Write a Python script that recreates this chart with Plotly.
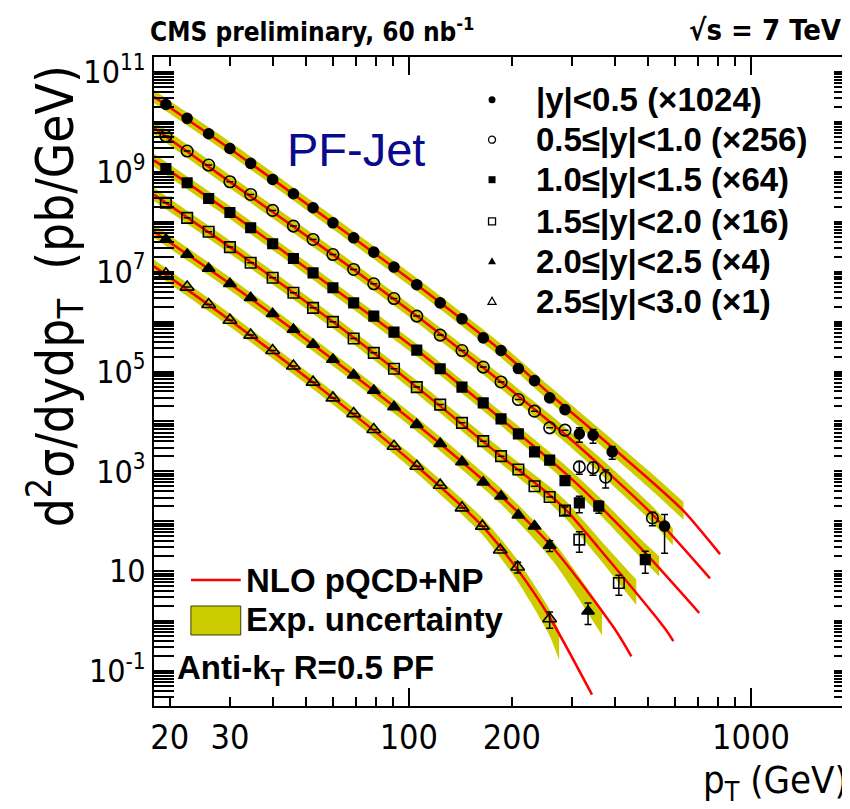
import math
import plotly.graph_objects as go

# ---------------- data ----------------
labels = ["|y|<0.5 (×1024)", "0.5≤|y|<1.0 (×256)", "1.0≤|y|<1.5 (×64)",
          "1.5≤|y|<2.0 (×16)", "2.0≤|y|<2.5 (×4)", "2.5≤|y|<3.0 (×1)"]

pt_0 = [19.5, 22.5, 26, 30, 34.5, 40, 46, 52.5, 60, 69, 79, 90.5, 105.5, 123.5, 143, 165, 186, 209, 233, 258, 286, 315, 345.5, 393, 559]
xs_0 = [2.24e10, 1.18e10, 5.8e9, 2.94e9, 1.48e9, 7.05e8, 3.65e8, 1.91e8, 9.55e7, 4.78e7, 2.47e7, 1.24e7, 5.5e6, 2.38e6, 1.14e6, 4.74e5, 2.64e5, 1.15e5, 6.6e4, 2.97e4, 1.73e4, 5.65e3, 5.3e3, 2.46e3, 80]
err_0 = [0] * 21 + [1.8e3, 1.65e3, 7e2, 57]

pt_1 = [19.5, 22.5, 26, 30, 34.5, 40, 46, 52.5, 60, 69, 79, 90.5, 105.5, 123.5, 143, 165, 186, 209, 233, 258, 286, 315, 345.5, 376, 515]
xs_1 = [5.22e9, 2.61e9, 1.37e9, 6.34e8, 3.53e8, 1.69e8, 8.2e7, 4.43e7, 2.21e7, 1.11e7, 5.73e6, 2.9e6, 1.29e6, 5.37e5, 2.64e5, 1.23e5, 6.2e4, 2.75e4, 1.61e4, 7.45e3, 6.7e3, 1.23e3, 1.18e3, 766, 117]
err_1 = [0] * 21 + [350, 340, 300, 35]

pt_2 = [19.5, 22.5, 26, 30, 34.5, 40, 46, 52.5, 60, 69, 79, 90.5, 105.5, 123.5, 143, 165, 186, 209, 233, 258, 286, 315, 359, 491]
xs_2 = [1.17e9, 6.05e8, 2.93e8, 1.54e8, 7.59e7, 3.63e7, 1.84e7, 9.5e6, 4.76e6, 2.38e6, 1.29e6, 6.17e5, 2.69e5, 1.14e5, 4.88e4, 2.36e4, 1.13e4, 5.65e3, 2.46e3, 1.68e3, 655, 234, 201, 17.1]
err_2 = [0] * 20 + [90, 85, 55, 8]

pt_3 = [19.5, 22.5, 26, 30, 34.5, 40, 46, 52.5, 60, 69, 79, 90.5, 105.5, 123.5, 143, 165, 186, 209, 233, 258, 286, 315, 411]
xs_3 = [2.4e8, 1.2e8, 6.3e7, 3.11e7, 1.51e7, 7.55e6, 3.78e6, 1.89e6, 9.9e5, 4.59e5, 2.37e5, 1.14e5, 4.88e4, 2.18e4, 9.4e3, 4.04e3, 2.02e3, 1.09e3, 506, 308, 164, 43, 5.8]
err_3 = [0] * 20 + [30, 19, 2.5]

pt_4 = [19.5, 22.5, 26, 30, 34.5, 40, 46, 52.5, 60, 69, 79, 90.5, 105.5, 123.5, 143, 165, 186, 209, 233, 258, 334]
xs_4 = [4.43e7, 2.21e7, 1.16e7, 5.73e6, 3.0e6, 1.44e6, 6.95e5, 3.48e5, 1.74e5, 8.47e4, 4.17e4, 1.96e4, 8.67e3, 3.6e3, 1.55e3, 608, 318, 133, 80, 33, 1.58]
err_4 = [0] * 19 + [8, 0.72]

pt_5 = [19.5, 22.5, 26, 30, 34.5, 40, 46, 52.5, 60, 69, 79, 90.5, 105.5, 123.5, 143, 164, 185, 208, 258]
xs_5 = [9.08e6, 4.92e6, 2.2e6, 1.07e6, 5.37e5, 2.64e5, 1.29e5, 6.14e4, 2.97e4, 1.44e4, 6.89e3, 3.2e3, 1.27e3, 530, 186, 80, 26.7, 12.2, 1.12]
err_5 = [0] * 17 + [3, 0.4]

# NLO pQCD+NP theory curves
nlo_pt_0 = [18, 30, 60, 105.5, 186, 258, 359, 525, 635, 812]
nlo_0 = [3.2e10, 2.9e9, 9.5e7, 5.5e6, 2.64e5, 3.6e4, 5.2e3, 540, 162, 22]
nlo_pt_1 = [18, 30, 60, 105.5, 186, 258, 288, 376, 515, 759]
nlo_1 = [7.6e9, 6.3e8, 2.2e7, 1.29e6, 6.2e4, 9.9e3, 5.3e3, 1.04e3, 138, 7.2]
nlo_pt_2 = [18, 30, 60, 105.5, 186, 288, 359, 491, 706]
nlo_2 = [1.7e9, 1.54e8, 4.76e6, 2.69e5, 1.13e4, 890, 213, 23.3, 1.46]
nlo_pt_3 = [18, 30, 60, 105.5, 186, 258, 288, 359, 559, 593]
nlo_3 = [3.5e8, 3.11e7, 9.9e5, 4.88e4, 2.02e3, 338, 169, 29.3, 0.73, 0.40]
nlo_pt_4 = [18, 30, 60, 105.5, 186, 264, 398, 447]
nlo_4 = [6.3e7, 5.73e6, 1.74e5, 8.67e3, 318, 29.3, 0.73, 0.198]
nlo_pt_5 = [18, 30, 60, 105.5, 164, 206, 256.6, 343]
nlo_5 = [1.28e7, 1.07e6, 2.97e4, 1.27e3, 80, 11.7, 1.27, 0.0337]

# experimental uncertainty bands (upper / lower edges)
band_pt_0 = [18, 30, 60, 105.5, 186, 258, 359, 525, 635]
band_hi_0 = [4.3e10, 4.0e9, 1.29e8, 7.5e6, 3.6e5, 5.1e4, 7.4e3, 794, 245]
band_lo_0 = [2.4e10, 2.2e9, 7.1e7, 4.1e6, 1.9e5, 2.5e4, 3.6e3, 363, 107]
band_pt_1 = [18, 30, 60, 105.5, 186, 258, 288, 376, 515, 591]
band_hi_1 = [1.04e10, 8.6e8, 3.0e7, 1.74e6, 8.6e4, 1.41e4, 7.4e3, 1.5e3, 200, 72]
band_lo_1 = [5.7e9, 4.7e8, 1.64e7, 9.6e5, 4.5e4, 7.0e3, 3.7e3, 716, 95, 33]
band_pt_2 = [18, 30, 60, 105.5, 186, 288, 359, 491, 539]
band_hi_2 = [2.3e9, 2.07e8, 6.4e6, 3.6e5, 1.56e4, 1.29e3, 316, 36, 20]
band_lo_2 = [1.26e9, 1.14e8, 3.5e6, 2.0e5, 8.2e3, 617, 144, 15, 7.9]
band_pt_3 = [18, 30, 60, 105.5, 186, 258, 288, 359, 462]
band_hi_3 = [4.8e8, 4.2e7, 1.34e6, 6.6e4, 2.85e3, 500, 256, 46, 6.8]
band_lo_3 = [2.6e8, 2.3e7, 7.3e5, 3.6e4, 1.43e3, 229, 112, 18.5, 2.1]
band_pt_4 = [18, 30, 60, 105.5, 186, 264, 367]
band_hi_4 = [8.7e7, 7.7e6, 2.35e5, 1.2e4, 460, 40, 1.72]
band_lo_4 = [4.8e7, 4.25e6, 1.29e5, 6.3e3, 220, 15.8, 0.52]
band_pt_5 = [18, 30, 60, 105.5, 164, 206, 256.6, 275]
band_hi_5 = [1.73e7, 1.45e6, 4.0e4, 1.76e3, 118, 18.2, 1.82, 0.635]
band_lo_5 = [9.5e6, 7.9e5, 2.2e4, 923, 54, 6.9, 0.55, 0.167]

x_tick_vals = [20, 30, 100, 200, 1000]
x_tick_text = ["20", "30", "100", "200", "1000"]
y_label_vals = [1e11, 1e9, 1e7, 1e5, 1e3, 1e1, 1e-1]
y_label_text = ["10<sup>11</sup>", "10<sup>9</sup>", "10<sup>7</sup>", "10<sup>5</sup>",
                "10<sup>3</sup>", "10", "10<sup>-1</sup>"]

# ---------------- style ----------------
YELLOW = "rgb(204,204,0)"
RED = "rgb(255,0,0)"
COND = "DejaVu Sans Condensed, Liberation Sans, Arial, sans-serif"
SANS = "Liberation Sans, Arial, Helvetica, sans-serif"

points = [(pt_0, xs_0, err_0), (pt_1, xs_1, err_1), (pt_2, xs_2, err_2),
          (pt_3, xs_3, err_3), (pt_4, xs_4, err_4), (pt_5, xs_5, err_5)]
curves = [(nlo_pt_0, nlo_0), (nlo_pt_1, nlo_1), (nlo_pt_2, nlo_2),
          (nlo_pt_3, nlo_3), (nlo_pt_4, nlo_4), (nlo_pt_5, nlo_5)]
bands = [(band_pt_0, band_lo_0, band_hi_0), (band_pt_1, band_lo_1, band_hi_1),
         (band_pt_2, band_lo_2, band_hi_2), (band_pt_3, band_lo_3, band_hi_3),
         (band_pt_4, band_lo_4, band_hi_4), (band_pt_5, band_lo_5, band_hi_5)]
symbols = ["circle", "circle-open", "square", "square-open", "triangle-up", "triangle-up-open"]
msizes = [10, 11.5, 9.5, 10.5, 11, 12]

fig = go.Figure()

for bpt, blo, bhi in bands:
    fig.add_trace(go.Scatter(x=bpt, y=blo, mode="lines", line=dict(width=0, shape="spline", smoothing=0.6),
                             hoverinfo="skip"))
    fig.add_trace(go.Scatter(x=bpt, y=bhi, mode="lines", line=dict(width=0, shape="spline", smoothing=0.6),
                             fill="tonexty", fillcolor=YELLOW, hoverinfo="skip"))

for cpt, cv in curves:
    fig.add_trace(go.Scatter(x=cpt, y=cv, mode="lines",
                             line=dict(color=RED, width=2.5, shape="spline", smoothing=0.8)))

for (ppt, pv, pe), sym, ms in zip(points, symbols, msizes):
    errs = [e if e > 0 else None for e in pe]
    fig.add_trace(go.Scatter(
        x=ppt, y=pv, mode="markers",
        marker=dict(symbol=sym, size=ms, color="black", line=dict(color="black", width=1.6)),
        error_y=dict(type="data", array=errs, arrayminus=errs, color="black", thickness=1.5, width=3.5),
    ))

# empty traces that carry the extra tick axes (long decade ticks)
fig.add_trace(go.Scatter(x=[], y=[], xaxis="x2", yaxis="y", mode="lines"))
fig.add_trace(go.Scatter(x=[], y=[], xaxis="x", yaxis="y2", mode="lines"))

# ---------------- layout ----------------
L, R, T, B = 146, 2, 49, 111
W, H = 850, 809
PW, PH = W - L - R, H - T - B


def pxx(x):
    return (x - L) / PW


def pyy(y):
    return (H - B - y) / PH


XR = [math.log10(18), math.log10(2000)]
YR = [math.log10(0.02), math.log10(2e11)]
x_minor = [40, 50, 60, 70, 80, 90, 300, 400, 500, 600, 700, 800, 900]
y_minor = [m * 10 ** e for e in range(-2, 12) for m in range(2, 10)]
y_even = [10 ** e for e in range(0, 11, 2)]

tick_common = dict(ticks="inside", tickwidth=1.5, tickcolor="black", showgrid=False, zeroline=False)

fig.update_layout(
    width=W, height=H, margin=dict(l=L, r=R, t=T, b=B),
    paper_bgcolor="white", plot_bgcolor="white", showlegend=False,
    xaxis=dict(type="log", range=XR, showline=True, linecolor="black", linewidth=2, mirror="allticks",
               ticklen=9, tickmode="array", tickvals=x_tick_vals, ticktext=x_tick_text,
               tickfont=dict(family=COND, size=34, color="black"),
               minor=dict(tickmode="array", tickvals=x_minor, ticks="inside", ticklen=9,
                          tickwidth=1.5, tickcolor="black", showgrid=False),
               **tick_common),
    xaxis2=dict(type="log", range=XR, overlaying="x", anchor="y", side="bottom",
                showline=False, mirror="allticks", ticklen=18, tickmode="array", tickvals=[100, 1000],
                showticklabels=False, **tick_common),
    yaxis=dict(type="log", range=YR, showline=True, linecolor="black", linewidth=2, mirror="allticks",
               ticklen=20, tickmode="array", tickvals=y_label_vals, ticktext=y_label_text,
               tickfont=dict(family=COND, size=32, color="black"),
               minor=dict(tickmode="array", tickvals=y_minor, ticks="inside", ticklen=10,
                          tickwidth=1.5, tickcolor="black", showgrid=False),
               **tick_common),
    yaxis2=dict(type="log", range=YR, overlaying="y", anchor="x", side="left",
                showline=False, mirror="allticks", ticklen=20, tickmode="array", tickvals=y_even,
                showticklabels=False, **tick_common),
)

ann = []
ann.append(dict(text="<b>CMS preliminary, 60 nb<sup>-1</sup></b>", x=pxx(140), y=pyy(22),
                xanchor="left", yanchor="middle", font=dict(family=COND, size=26, color="black")))
ann.append(dict(text="<b>√s = 7 TeV</b>", x=pxx(838), y=pyy(22),
                xanchor="right", yanchor="middle", font=dict(family=COND, size=29, color="black")))
ann.append(dict(text="d<sup>2</sup>σ/dydp<sub>T</sub>  (pb/GeV)", x=pxx(46), y=pyy(288), textangle=-90,
                xanchor="center", yanchor="middle", font=dict(family=COND, size=51, color="black")))
ann.append(dict(text="p<sub>T</sub> (GeV)", x=pxx(844), y=pyy(775),
                xanchor="right", yanchor="middle", font=dict(family=COND, size=38, color="black")))
ann.append(dict(text="PF-Jet", x=pxx(349), y=pyy(141), xanchor="center", yanchor="middle",
                font=dict(family=SANS, size=47, color="rgb(10,10,140)")))

row_y = [91.7, 131.7, 171.7, 213.3, 253.3, 293.3]
for lab, ry in zip(labels, row_y):
    ann.append(dict(text="<b>" + lab + "</b>", x=pxx(527), y=pyy(ry), xanchor="left", yanchor="middle",
                    font=dict(family=SANS, size=33, color="black")))

ann.append(dict(text="<b>NLO pQCD+NP</b>", x=pxx(236), y=pyy(572), xanchor="left", yanchor="middle",
                font=dict(family=SANS, size=33, color="black")))
ann.append(dict(text="<b>Exp. uncertainty</b>", x=pxx(236), y=pyy(611), xanchor="left", yanchor="middle",
                font=dict(family=SANS, size=33, color="black")))
ann.append(dict(text="<b>Anti-k<sub>T</sub> R=0.5 PF</b>", x=pxx(167), y=pyy(662), xanchor="left",
                yanchor="middle", font=dict(family=SANS, size=33, color="black")))
for a in ann:
    a.update(xref="paper", yref="paper", showarrow=False)
fig.update_layout(annotations=ann)

shapes = []
mx = pxx(485)
for i, ry in enumerate(row_y):
    base = dict(xref="paper", yref="paper", xsizemode="pixel", ysizemode="pixel",
                xanchor=mx, yanchor=pyy(ry))
    filled = i % 2 == 0
    col = "black" if filled else "rgba(0,0,0,0)"
    lw = 0 if filled else 1.3
    if i < 2:
        shapes.append(dict(type="circle", x0=-3.5, x1=3.5, y0=-3.5, y1=3.5, fillcolor=col,
                           line=dict(color="black", width=lw), **base))
    elif i < 4:
        shapes.append(dict(type="rect", x0=-3.5, x1=3.5, y0=-3.5, y1=3.5, fillcolor=col,
                           line=dict(color="black", width=lw), **base))
    else:
        shapes.append(dict(type="path", path="M -4,-3 L 4,-3 L 0,4 Z", fillcolor=col,
                           line=dict(color="black", width=lw), **base))

shapes.append(dict(type="line", xref="paper", yref="paper", x0=pxx(183), x1=pxx(233),
                   y0=pyy(572), y1=pyy(572), line=dict(color=RED, width=2.5)))
shapes.append(dict(type="rect", xref="paper", yref="paper", x0=pxx(183), x1=pxx(233),
                   y0=pyy(627), y1=pyy(598), fillcolor=YELLOW, line=dict(color="rgb(60,60,0)", width=1)))
fig.update_layout(shapes=shapes)

fig.write_html("out.html")
